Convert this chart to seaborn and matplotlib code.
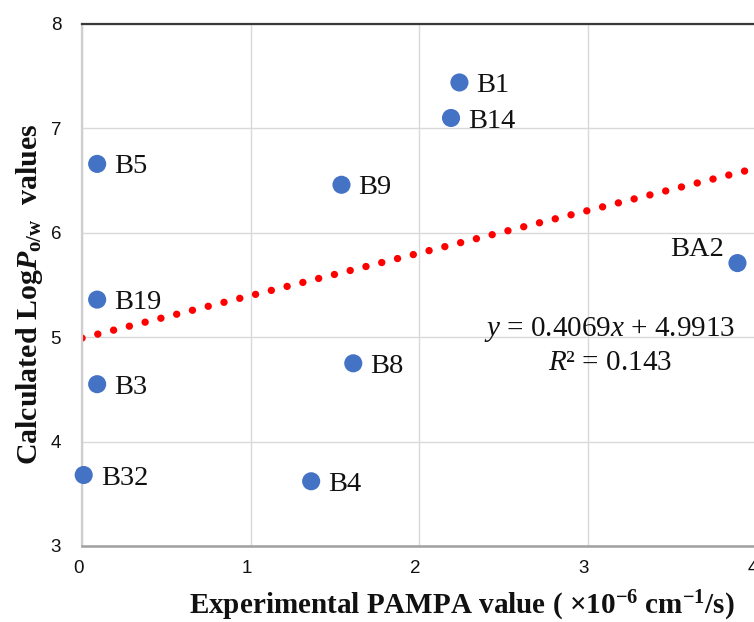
import matplotlib
matplotlib.use("Agg")
import matplotlib.pyplot as plt
import matplotlib.transforms as mtransforms
import numpy as np
import pandas as pd
import seaborn as sns

# ---- data ----
compounds = ["B1", "B14", "B5", "B9", "BA2", "B19", "B8", "B3", "B32", "B4"]
pampa = [2.24, 2.19, 0.09, 1.54, 3.89, 0.09, 1.61, 0.09, 0.01, 1.36]
logp = [7.44, 7.10, 6.66, 6.46, 5.71, 5.36, 4.75, 4.55, 3.68, 3.62]
trend_slope = 0.4069
trend_intercept = 4.9913
r_squared = 0.143
x_ticks = [0, 1, 2, 3, 4]
y_ticks = [3, 4, 5, 6, 7, 8]

df = pd.DataFrame({"compound": compounds, "pampa": pampa, "logp": logp})

sns.set_theme(style="white")
plt.rcParams["font.family"] = ["Liberation Serif", "DejaVu Serif"]
plt.rcParams["mathtext.fontset"] = "custom"
plt.rcParams["mathtext.rm"] = "Liberation Serif"
plt.rcParams["mathtext.it"] = "Liberation Serif:italic"
plt.rcParams["mathtext.bf"] = "Liberation Serif:bold"
plt.rcParams["mathtext.bfit"] = "Liberation Serif:italic:bold"

W, H = 754, 622
fig = plt.figure(figsize=(W / 100, H / 100), dpi=100)
ax = fig.add_axes([82 / W, 1 - 546 / H, (756 - 82) / W, (546 - 24) / H])

# grid
ax.set_xlim(0, 4)
ax.set_ylim(3, 8)
ax.set_xticks(x_ticks)
ax.set_yticks(y_ticks)
ax.grid(True, color="#d9d9d9", linewidth=1.0)
ax.set_axisbelow(True)

# trendline
xs = np.array([0.0, 4.0])
ax.plot(xs, trend_slope * xs + trend_intercept, color="#ff0000",
        linewidth=5.3, linestyle=(0, (0.01, 2.2)),
        dash_capstyle="round", zorder=2)

# points
sns.scatterplot(data=df, x="pampa", y="logp", ax=ax, color="#4472c4",
                s=170, edgecolor="none", zorder=3, legend=False, clip_on=False)

for name, xv, yv in zip(compounds, pampa, logp):
    if name == "BA2":
        ax.annotate(name, (xv, yv), xytext=(-9.5, 9.5), textcoords="offset points",
                    ha="right", va="center", fontsize=20.5, color="#111111")
    else:
        ax.annotate(name, (xv, yv), xytext=(12.3, -2.2), textcoords="offset points",
                    ha="left", va="center", fontsize=20.5, color="#111111")

# equation
eq_x = (610 - 82) / (756 - 82)
ax.text(eq_x, (546 - 330) / (546 - 24), "$y$ = 0.4069$x$ + 4.9913",
        transform=ax.transAxes, ha="center", va="center", fontsize=21, color="#111111")
ax.text(eq_x, (546 - 363) / (546 - 24), f"$R$² = {r_squared}",
        transform=ax.transAxes, ha="center", va="center", fontsize=21, color="#111111")

# spines
ax.spines["right"].set_visible(False)
ax.spines["top"].set_color("#3a3a3a")
ax.spines["top"].set_linewidth(1.6)
ax.spines["left"].set_color("#cfcfcf")
ax.spines["left"].set_linewidth(1.6)
ax.spines["bottom"].set_color("#a0a0a0")
ax.spines["bottom"].set_linewidth(1.8)

# tick labels
ax.tick_params(axis="both", length=0, colors="#111111", labelsize=13.5)
ax.tick_params(axis="y", pad=15)
ax.tick_params(axis="x", pad=10)
for lab in ax.get_xticklabels() + ax.get_yticklabels():
    lab.set_fontfamily(["Liberation Sans", "DejaVu Sans"])
shift = mtransforms.ScaledTranslation(-3.5 / 100, 0, fig.dpi_scale_trans)
for lab in ax.get_xticklabels():
    lab.set_transform(lab.get_transform() + shift)

ax.set_xlabel("")
ax.set_ylabel("")
fig.text(462 / W, 1 - 606 / H,
         r"Experimental PAMPA value ( ×10$^{\mathbf{-6}}$ cm$^{\mathbf{-1}}$/s)",
         ha="center", va="center", fontsize=21, fontweight="bold", color="#111111")
fig.text(30 / W, 1 - 294 / H,
         r"Calculated Log$\mathbfit{P}_{\mathbf{o/w}}$  values",
         ha="center", va="center", rotation=90, fontsize=21.5, fontweight="bold",
         color="#111111")

fig.savefig("out.png", dpi=100)
